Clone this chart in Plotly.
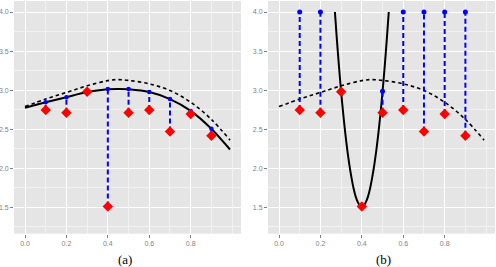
import plotly.graph_objects as go

# ---- data ----
x_obs = [0.1, 0.2, 0.3, 0.4, 0.5, 0.6, 0.7, 0.8, 0.9]
y_obs = [2.745, 2.71, 2.98, 1.51, 2.71, 2.745, 2.47, 2.695, 2.415]

# (a) fitted values on smooth curve
y_fit_a = [2.845, 2.91, 2.98, 3.013, 3.013, 2.975, 2.885, 2.733, 2.505]
# (b) fitted values (clipped at 4.0)
y_fit_b = [4.0, 4.0, 2.98, 1.51, 2.985, 4.0, 4.0, 4.0, 4.0]

# dashed "true" curve
x_true = [0.0, 0.1, 0.2, 0.3, 0.4, 0.45, 0.5, 0.6, 0.7, 0.8, 0.9, 0.99]
y_true = [2.79, 2.885, 2.97, 3.055, 3.122, 3.135, 3.125, 3.08, 2.995, 2.845, 2.625, 2.36]

# solid fitted curve (a)
x_sa = [0.0, 0.1, 0.2, 0.3, 0.4, 0.45, 0.5, 0.6, 0.7, 0.8, 0.9, 0.99]
y_sa = [2.775, 2.845, 2.91, 2.975, 3.01, 3.016, 3.01, 2.975, 2.885, 2.735, 2.505, 2.24]

# solid fitted curve (b)
x_sb = [0.27, 0.28, 0.29, 0.30, 0.31, 0.32, 0.33, 0.34, 0.35, 0.36, 0.37, 0.38, 0.39, 0.40,
        0.41, 0.42, 0.43, 0.44, 0.45, 0.46, 0.47, 0.48, 0.49, 0.50, 0.51, 0.52, 0.53]
y_sb = [4.0, 3.63, 3.29, 2.98, 2.70, 2.45, 2.23, 2.04, 1.88, 1.745, 1.64, 1.57, 1.525, 1.51,
        1.525, 1.57, 1.64, 1.745, 1.88, 2.04, 2.23, 2.45, 2.70, 2.98, 3.29, 3.63, 4.0]

x_ticks = [0.0, 0.2, 0.4, 0.6, 0.8]
x_tick_text = ["0.0", "0.2", "0.4", "0.6", "0.8"]
x_minor = [0.1, 0.3, 0.5, 0.7, 0.9, 1.0]
y_ticks = [1.5, 2.0, 2.5, 3.0, 3.5, 4.0]
y_tick_text = ["1.5", "2.0", "2.5", "3.0", "3.5", "4.0"]
y_minor = [1.25, 1.75, 2.25, 2.75, 3.25, 3.75]
panel_labels = ["(a)", "(b)"]

W, H = 496, 267
BLUE = "#0000FF"
RED = "#FF0000"

fig = go.Figure()


def seg(xs, y1, y2):
    sx, sy = [], []
    for a, b, c in zip(xs, y1, y2):
        sx += [a, a, None]
        sy += [b, c, None]
    return sx, sy


for i, (yfit, xs_c, ys_c) in enumerate([(y_fit_a, x_sa, y_sa), (y_fit_b, x_sb, y_sb)]):
    xa = "x" if i == 0 else "x2"
    ya = "y" if i == 0 else "y2"
    fig.add_trace(go.Scatter(x=x_true, y=y_true, mode="lines", xaxis=xa, yaxis=ya,
                             line=dict(color="black", width=1.6, dash="3.5px,3px", shape="spline"),
                             showlegend=False))
    fig.add_trace(go.Scatter(x=xs_c, y=ys_c, mode="lines", xaxis=xa, yaxis=ya,
                             line=dict(color="black", width=2, shape="spline", smoothing=0.6),
                             showlegend=False))
    sx, sy = seg(x_obs, y_obs, yfit)
    fig.add_trace(go.Scatter(x=sx, y=sy, mode="lines", xaxis=xa, yaxis=ya,
                             line=dict(color=BLUE, width=2, dash="5px,3px"),
                             showlegend=False))
    fig.add_trace(go.Scatter(x=x_obs, y=yfit, mode="markers", xaxis=xa, yaxis=ya,
                             marker=dict(color=BLUE, size=5 if i == 1 else 4.5, symbol="circle"),
                             showlegend=False))
    fig.add_trace(go.Scatter(x=x_obs, y=y_obs, mode="markers", xaxis=xa, yaxis=ya,
                             marker=dict(color=RED, size=8, symbol="diamond"),
                             showlegend=False))

ybot = (H - 233.7) / H
ytop = (H - 1) / H
xrange = [-0.0531, 1.043]
yrange = [1.162, 4.141]

tickfont = dict(family="Liberation Sans, Arial, sans-serif", size=7, color="#7F7F7F")


def xaxis(domain, anchor):
    return dict(domain=domain, range=xrange, anchor=anchor, showline=False, zeroline=False,
                tickmode="array", tickvals=x_ticks, ticktext=x_tick_text,
                ticks="outside", ticklen=3, tickwidth=1, tickcolor="#7F7F7F",
                tickfont=tickfont, showgrid=True, gridcolor="white", gridwidth=1.1,
                minor=dict(tickvals=x_minor, showgrid=True, gridcolor="#F2F2F2", gridwidth=0.6, ticks=""),
                fixedrange=True)


def yaxis(anchor):
    return dict(domain=[ybot, ytop], range=yrange, anchor=anchor, showline=False, zeroline=False,
                tickmode="array", tickvals=y_ticks, ticktext=y_tick_text,
                ticks="outside", ticklen=3, tickwidth=1, tickcolor="#7F7F7F",
                tickfont=tickfont, showgrid=True, gridcolor="white", gridwidth=1.1,
                minor=dict(tickvals=y_minor, showgrid=True, gridcolor="#F2F2F2", gridwidth=0.6, ticks=""),
                fixedrange=True)


fig.update_layout(
    width=W, height=H, margin=dict(l=0, r=0, t=0, b=0),
    paper_bgcolor="white", plot_bgcolor="#E5E5E5",
    xaxis=xaxis([14 / W, 241 / W], "y"),
    yaxis=yaxis("x"),
    xaxis2=xaxis([268 / W, 495 / W], "y2"),
    yaxis2=yaxis("x2"),
    showlegend=False,
)

for lbl, cx in zip(panel_labels, [125, 383]):
    fig.add_annotation(text=lbl, x=cx / W, y=(H - 259) / H, xref="paper", yref="paper",
                       showarrow=False, xanchor="center", yanchor="middle",
                       font=dict(family="Liberation Serif, DejaVu Serif, serif", size=13, color="black"))

fig.write_html("out.html", config={"displayModeBar": False},
               post_script="document.body.style.margin='0';document.body.style.overflow='hidden';")
